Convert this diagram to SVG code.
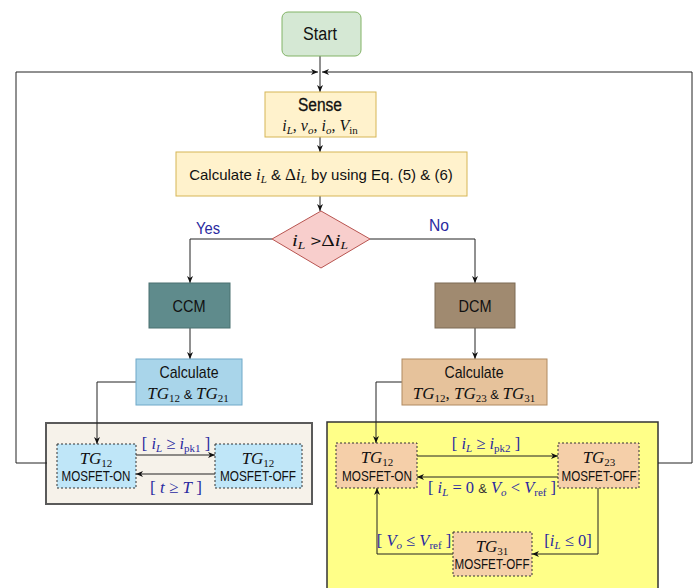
<svg xmlns="http://www.w3.org/2000/svg" width="694" height="588" viewBox="0 0 694 588">
<defs>
<marker id="ah" markerWidth="8" markerHeight="8" refX="7" refY="4" orient="auto" markerUnits="userSpaceOnUse">
<path d="M0,1 L7,4 L0,7 L2,4 Z" fill="#111"/>
</marker>
</defs>
<style>
.sans{font-family:"Liberation Sans",Arial,sans-serif;fill:#111}
.math{font-family:"Liberation Serif","Times New Roman",serif;fill:#111}
.it{font-style:italic}
.con{fill:none;stroke:#222;stroke-width:1}
.dot{stroke:#333;stroke-width:1;stroke-dasharray:2,2}
</style>
<rect width="694" height="588" fill="#ffffff"/>

<g id="ccm-container"><rect x="46" y="423" width="266" height="81" fill="#f6f2ea" stroke="#5a5a5a" stroke-width="2"/></g>
<g id="dcm-container"><rect x="327" y="422" width="331" height="175" fill="#ffff88" stroke="#333" stroke-width="1.5"/></g>

<g id="connectors">
<path class="con" d="M320,56 V72" stroke="#aaa"/>
<path class="con" d="M47,463 H16 V72 H318" marker-end="url(#ah)"/>
<path class="con" d="M658,463 H692 V72 H322" marker-end="url(#ah)"/>
<path class="con" d="M320,72 V92" marker-end="url(#ah)"/>
<path class="con" d="M320,137 V152" marker-end="url(#ah)"/>
<path class="con" d="M320,196 V211" marker-end="url(#ah)"/>
<path class="con" d="M272,239 H190 V283" marker-end="url(#ah)"/>
<path class="con" d="M370,239 H475 V283" marker-end="url(#ah)"/>
<path class="con" d="M190,328 V359" marker-end="url(#ah)"/>
<path class="con" d="M475,328 V359" marker-end="url(#ah)"/>
<path class="con" d="M136,382 H97 V444" marker-end="url(#ah)"/>
<path class="con" d="M402,382 H376 V443" marker-end="url(#ah)"/>
<path class="con" d="M136,455 H215" marker-end="url(#ah)"/>
<path class="con" d="M215,474 H136" marker-end="url(#ah)"/>
<path class="con" d="M417,456 H558" marker-end="url(#ah)"/>
<path class="con" d="M558,477 H417" marker-end="url(#ah)"/>
<path class="con" d="M598,488 V554 H532" marker-end="url(#ah)"/>
<path class="con" d="M453,554 H377 V488" marker-end="url(#ah)"/>
</g>

<g id="start">
<rect x="282" y="12" width="79" height="44" rx="6" fill="#d5e8d4" stroke="#82b366"/>
<text class="sans" x="320" y="40" font-size="18" text-anchor="middle" textLength="34" lengthAdjust="spacingAndGlyphs">Start</text>
</g>

<g id="sense">
<rect x="265" y="92" width="111" height="45" fill="#fff2cc" stroke="#d6b656"/>
<text class="sans" x="320" y="111" font-size="18" text-anchor="middle" textLength="44" lengthAdjust="spacingAndGlyphs" stroke="#111" stroke-width="0.3">Sense</text>
<text class="math" x="320" y="131" font-size="16" text-anchor="middle"><tspan class="it">i</tspan><tspan class="it" font-size="11" dy="3">L</tspan><tspan dy="-3">, </tspan><tspan class="it">v</tspan><tspan class="it" font-size="11" dy="3">o</tspan><tspan dy="-3">, </tspan><tspan class="it">i</tspan><tspan class="it" font-size="11" dy="3">o</tspan><tspan dy="-3">, </tspan><tspan class="it">V</tspan><tspan font-size="11" dy="3">in</tspan></text>
</g>

<g id="calc">
<rect x="176" y="152" width="291" height="44" fill="#fff2cc" stroke="#d6b656"/>
<text class="sans" x="321" y="180" font-size="15" text-anchor="middle">Calculate <tspan class="math it" font-size="17">i</tspan><tspan class="math it" font-size="11" dy="3">L</tspan><tspan dy="-3"> &amp; </tspan><tspan class="math" font-size="17">Δ</tspan><tspan class="math it" font-size="17">i</tspan><tspan class="math it" font-size="11" dy="3">L</tspan><tspan dy="-3"> by using Eq. (5) &amp; (6)</tspan></text>
</g>

<g id="decision">
<polygon points="321,211 370,239 321,268 272,239" fill="#f8cecc" stroke="#b85450"/>
<text class="math" x="320" y="246" font-size="17" text-anchor="middle" textLength="56" lengthAdjust="spacingAndGlyphs"><tspan class="it">i</tspan><tspan class="it" font-size="11" dy="3">L</tspan><tspan dy="-3" class="sans" font-size="15"> &gt;</tspan><tspan>Δ</tspan><tspan class="it">i</tspan><tspan class="it" font-size="11" dy="3">L</tspan></text>
</g>

<g id="yes-no">
<text class="sans" x="208" y="234" font-size="17" text-anchor="middle" textLength="24" lengthAdjust="spacingAndGlyphs" style="fill:#2a2aa0">Yes</text>
<text class="sans" x="439" y="231" font-size="17" text-anchor="middle" textLength="20" lengthAdjust="spacingAndGlyphs" style="fill:#2a2aa0">No</text>
</g>

<g id="ccm">
<rect x="149" y="283" width="81" height="45" fill="#5f8b8c" stroke="#4a7070"/>
<text class="sans" x="189" y="312" font-size="17" text-anchor="middle" textLength="33" lengthAdjust="spacingAndGlyphs">CCM</text>
</g>

<g id="dcm">
<rect x="435" y="283" width="80" height="45" fill="#a08a70" stroke="#7d6a55"/>
<text class="sans" x="475" y="312" font-size="17" text-anchor="middle" textLength="33" lengthAdjust="spacingAndGlyphs">DCM</text>
</g>

<g id="calc-ccm">
<rect x="136" y="359" width="106" height="46" fill="#a9d5ea" stroke="#6fa8c8"/>
<text class="sans" x="189" y="378" font-size="17" text-anchor="middle" textLength="59" lengthAdjust="spacingAndGlyphs">Calculate</text>
<text class="math" x="188" y="399" font-size="17" text-anchor="middle"><tspan class="it">TG</tspan><tspan font-size="11" dy="3">12</tspan><tspan dy="-3" class="sans" font-size="13"> &amp; </tspan><tspan class="it">TG</tspan><tspan font-size="11" dy="3">21</tspan></text>
</g>

<g id="calc-dcm">
<rect x="402" y="359" width="145" height="46" fill="#e6c29b" stroke="#b08a60"/>
<text class="sans" x="474" y="378" font-size="17" text-anchor="middle" textLength="59" lengthAdjust="spacingAndGlyphs">Calculate</text>
<text class="math" x="474" y="399" font-size="17" text-anchor="middle"><tspan class="it">TG</tspan><tspan font-size="11" dy="3">12</tspan><tspan dy="-3">, </tspan><tspan class="it">TG</tspan><tspan font-size="11" dy="3">23</tspan><tspan dy="-3" class="sans" font-size="13"> &amp; </tspan><tspan class="it">TG</tspan><tspan font-size="11" dy="3">31</tspan></text>
</g>

<g id="ccm-on">
<rect class="dot" x="57" y="444" width="79" height="44" fill="#bfe6f8"/>
<text class="math" x="96" y="464" font-size="17" text-anchor="middle"><tspan class="it">TG</tspan><tspan font-size="11" dy="3">12</tspan></text>
<text class="sans" x="96" y="481" font-size="14" text-anchor="middle" textLength="69" lengthAdjust="spacingAndGlyphs">MOSFET-ON</text>
</g>

<g id="ccm-off">
<rect class="dot" x="215" y="444" width="87" height="44" fill="#bfe6f8"/>
<text class="math" x="258" y="464" font-size="17" text-anchor="middle"><tspan class="it">TG</tspan><tspan font-size="11" dy="3">12</tspan></text>
<text class="sans" x="258" y="481" font-size="14" text-anchor="middle" textLength="76" lengthAdjust="spacingAndGlyphs">MOSFET-OFF</text>
</g>

<g id="ccm-labels">
<text class="math" x="176" y="449" font-size="16.5" text-anchor="middle" style="fill:#2a2aa0">[ <tspan class="it">i</tspan><tspan class="it" font-size="11" dy="3">L</tspan><tspan dy="-3"> ≥ </tspan><tspan class="it">i</tspan><tspan font-size="11" dy="3">pk1</tspan><tspan dy="-3"> ]</tspan></text>
<text class="math" x="176" y="493" font-size="17" text-anchor="middle" style="fill:#2a2aa0">[ <tspan class="it">t</tspan> ≥ <tspan class="it">T</tspan> ]</text>
</g>

<g id="dcm-on">
<rect class="dot" x="336" y="443" width="81" height="45" fill="#f5cfa9"/>
<text class="math" x="377" y="463" font-size="17" text-anchor="middle"><tspan class="it">TG</tspan><tspan font-size="11" dy="3">12</tspan></text>
<text class="sans" x="377" y="481" font-size="14" text-anchor="middle" textLength="70" lengthAdjust="spacingAndGlyphs">MOSFET-ON</text>
</g>

<g id="dcm-tg23">
<rect class="dot" x="558" y="443" width="81" height="45" fill="#f5cfa9"/>
<text class="math" x="599" y="463" font-size="17" text-anchor="middle"><tspan class="it">TG</tspan><tspan font-size="11" dy="3">23</tspan></text>
<text class="sans" x="599" y="481" font-size="14" text-anchor="middle" textLength="75" lengthAdjust="spacingAndGlyphs">MOSFET-OFF</text>
</g>

<g id="dcm-tg31">
<rect class="dot" x="453" y="532" width="79" height="44" fill="#f5cfa9"/>
<text class="math" x="492" y="552" font-size="17" text-anchor="middle"><tspan class="it">TG</tspan><tspan font-size="11" dy="3">31</tspan></text>
<text class="sans" x="492" y="569" font-size="14" text-anchor="middle" textLength="75" lengthAdjust="spacingAndGlyphs">MOSFET-OFF</text>
</g>

<g id="dcm-labels">
<text class="math" x="486" y="449" font-size="16.5" text-anchor="middle" style="fill:#2a2aa0">[ <tspan class="it">i</tspan><tspan class="it" font-size="11" dy="3">L</tspan><tspan dy="-3"> ≥ </tspan><tspan class="it">i</tspan><tspan font-size="11" dy="3">pk2</tspan><tspan dy="-3"> ]</tspan></text>
<text class="math" x="492" y="493" font-size="16.5" text-anchor="middle" style="fill:#2a2aa0">[ <tspan class="it">i</tspan><tspan class="it" font-size="11" dy="3">L</tspan><tspan dy="-3"> = 0 </tspan><tspan class="sans" font-size="13" style="fill:#333">&amp;</tspan><tspan> </tspan><tspan class="it">V</tspan><tspan class="it" font-size="11" dy="3">o</tspan><tspan dy="-3"> &lt; </tspan><tspan class="it">V</tspan><tspan font-size="11" dy="3">ref</tspan><tspan dy="-3"> ]</tspan></text>
<text class="math" x="414" y="546" font-size="16.5" text-anchor="middle" style="fill:#2a2aa0">[ <tspan class="it">V</tspan><tspan class="it" font-size="11" dy="3">o</tspan><tspan dy="-3"> ≤ </tspan><tspan class="it">V</tspan><tspan font-size="11" dy="3">ref</tspan><tspan dy="-3"> ]</tspan></text>
<text class="math" x="568" y="546" font-size="16.5" text-anchor="middle" style="fill:#2a2aa0">[<tspan class="it">i</tspan><tspan class="it" font-size="11" dy="3">L</tspan><tspan dy="-3"> ≤ 0]</tspan></text>
</g>
</svg>
